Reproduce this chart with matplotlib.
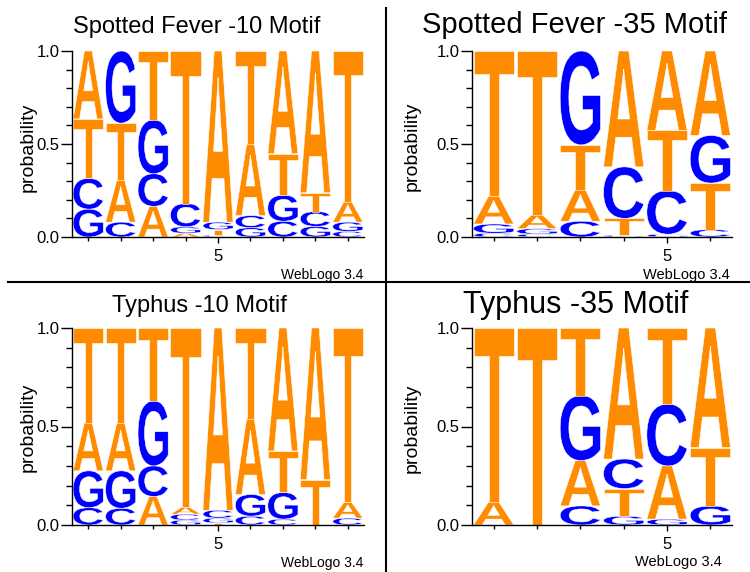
import matplotlib
matplotlib.use('Agg')
import matplotlib.pyplot as plt
from matplotlib.textpath import TextPath
from matplotlib.font_manager import FontProperties, findfont
from matplotlib.patches import PathPatch
from matplotlib.transforms import Affine2D
from matplotlib.lines import Line2D
from matplotlib.ticker import MultipleLocator

plt.rcParams['font.family'] = ['Liberation Sans', 'DejaVu Sans']

# ── Letter probabilities per position ─────────────
bases = ['A', 'C', 'G', 'T']

# Spotted Fever -10 motif (9 positions)
sf10_A = [0.365, 0.226, 0.165, 0.02, 0.92, 0.385, 0.552, 0.762, 0.11]
sf10_C = [0.165, 0.08, 0.175, 0.125, 0.01, 0.065, 0.085, 0.08, 0.03]
sf10_G = [0.15, 0.388, 0.29, 0.035, 0.04, 0.05, 0.14, 0.057, 0.05]
sf10_T = [0.32, 0.306, 0.37, 0.82, 0.03, 0.5, 0.223, 0.101, 0.81]

# Spotted Fever -35 motif (6 positions)
sf35_A = [0.15, 0.075, 0.17, 0.623, 0.427, 0.454]
sf35_C = [0.02, 0.015, 0.085, 0.277, 0.235, 0.04]
sf35_G = [0.05, 0.03, 0.505, 0.01, 0.015, 0.256]
sf35_T = [0.78, 0.88, 0.24, 0.09, 0.323, 0.25]

# Typhus -10 motif (9 positions)
ty10_A = [0.245, 0.245, 0.145, 0.035, 0.925, 0.385, 0.624, 0.77, 0.08]
ty10_C = [0.088, 0.085, 0.155, 0.03, 0.04, 0.045, 0.03, 0.0, 0.035]
ty10_G = [0.187, 0.19, 0.33, 0.025, 0.025, 0.11, 0.135, 0.0, 0.0]
ty10_T = [0.48, 0.48, 0.37, 0.91, 0.01, 0.46, 0.211, 0.23, 0.885]

# Typhus -35 motif (6 positions)
ty35_A = [0.117, 0.0, 0.23, 0.665, 0.27, 0.607]
ty35_C = [0.0, 0.0, 0.097, 0.15, 0.314, 0.0]
ty35_G = [0.0, 0.0, 0.33, 0.045, 0.03, 0.097]
ty35_T = [0.883, 1.0, 0.343, 0.14, 0.386, 0.296]

titles = ['Spotted Fever -10 Motif', 'Spotted Fever -35 Motif',
          'Typhus -10 Motif', 'Typhus -35 Motif']

colors = {'A': '#ff8c00', 'T': '#ff8c00', 'C': '#0000ff', 'G': '#0000ff'}

# ── Fonts ──────────────────────────────────────────
try:
    findfont(FontProperties(family='Liberation Sans Narrow'),
             fallback_to_default=False)
    narrow = ['Liberation Sans Narrow', 'Liberation Sans']
    left_title_size = (19.5, 20.5)
except ValueError:
    narrow = ['Liberation Sans', 'DejaVu Sans']
    left_title_size = (17, 17)

glyph_font = FontProperties(family='Liberation Sans', weight='bold')
GLYPHS = {b: TextPath((0, 0), b, size=1, prop=glyph_font) for b in bases}

W, H = 750, 572


def rect_px(left, top, right, bottom):
    return [left / W, 1 - bottom / H, (right - left) / W, (bottom - top) / H]


def letter(ax, ch, x, y0, h, w=0.93):
    path = GLYPHS[ch]
    bb = path.get_extents()
    t = (Affine2D().translate(-bb.x0, -bb.y0)
         .scale(w / bb.width, h / bb.height)
         .translate(x - w / 2, y0))
    ax.add_patch(PathPatch(t.transform_path(path), fc=colors[ch],
                           ec='white', lw=0.4))


def draw_logo(ax, probs):
    n = len(probs['A'])
    for i in range(n):
        stack = sorted(((probs[b][i], b) for b in bases), key=lambda t: t[0])
        y = 0.0
        for p, b in stack:
            if p > 0:
                letter(ax, b, i + 1, y, p)
            y += p
    ax.set_xlim(0.5, n + 0.5)
    ax.set_ylim(0, 1)

    for s in ['top', 'right']:
        ax.spines[s].set_visible(False)
    for s in ['left', 'bottom']:
        ax.spines[s].set_linewidth(1.0)
    ax.set_yticks([0, 0.5, 1.0])
    ax.set_yticklabels(['0.0', '0.5', '1.0'])
    ax.yaxis.set_minor_locator(MultipleLocator(0.1))
    ax.set_xticks([5])
    ax.set_xticklabels(['5'])
    ax.set_xticks([k for k in range(1, n + 1) if k != 5], minor=True)
    ax.tick_params(axis='y', which='major', length=8, width=1,
                   labelsize=12, pad=1)
    ax.tick_params(axis='y', which='minor', length=4.5, width=1)
    ax.tick_params(axis='x', which='major', length=4.5, width=1,
                   labelsize=12, pad=4)
    ax.tick_params(axis='x', which='minor', length=3, width=1)


# ── Figure ─────────────────────────────────────────
fig = plt.figure(figsize=(7.5, 5.72), dpi=100)

panels = [
    (dict(A=sf10_A, C=sf10_C, G=sf10_G, T=sf10_T), rect_px(72, 51, 364, 237)),
    (dict(A=sf35_A, C=sf35_C, G=sf35_G, T=sf35_T), rect_px(472, 51, 732, 237)),
    (dict(A=ty10_A, C=ty10_C, G=ty10_G, T=ty10_T), rect_px(72, 328, 364, 525)),
    (dict(A=ty35_A, C=ty35_C, G=ty35_G, T=ty35_T), rect_px(472, 328, 732, 525)),
]
for probs, rect in panels:
    ax = fig.add_axes(rect)
    draw_logo(ax, probs)

# titles (pixel centre x, baseline y)
title_pos = [(197, 33), (574, 33), (199, 312), (576, 313)]
title_font = [(narrow, left_title_size[0]), (None, 21),
              (narrow, left_title_size[1]), (None, 22)]
for txt, (x, y), (fam, size) in zip(titles, title_pos, title_font):
    kw = {'family': fam} if fam else {}
    fig.text(x / W, 1 - y / H, txt, ha='center', va='baseline',
             fontsize=size, **kw)

# y labels
for x, y in [(28, 147), (412, 146), (28, 427), (412, 428)]:
    fig.text(x / W, 1 - y / H, 'probability', rotation=90,
             ha='center', va='center', fontsize=14)

# WebLogo credit
for x, y, fam, size in [(363, 279, narrow, 10), (730, 279, None, 10.5),
                        (363, 567, narrow, 10), (722, 566, None, 10.5)]:
    kw = {'family': fam} if fam else {}
    fig.text(x / W, 1 - y / H, 'WebLogo 3.4', ha='right', va='baseline',
             fontsize=size, **kw)

# panel dividers
fig.add_artist(Line2D([386 / W, 386 / W], [0, 1 - 8 / H],
                      transform=fig.transFigure, color='black', lw=1.5))
fig.add_artist(Line2D([8 / W, 1], [1 - 282 / H, 1 - 282 / H],
                      transform=fig.transFigure, color='black', lw=1.5))

fig.savefig('out.png', dpi=100, facecolor='white')
